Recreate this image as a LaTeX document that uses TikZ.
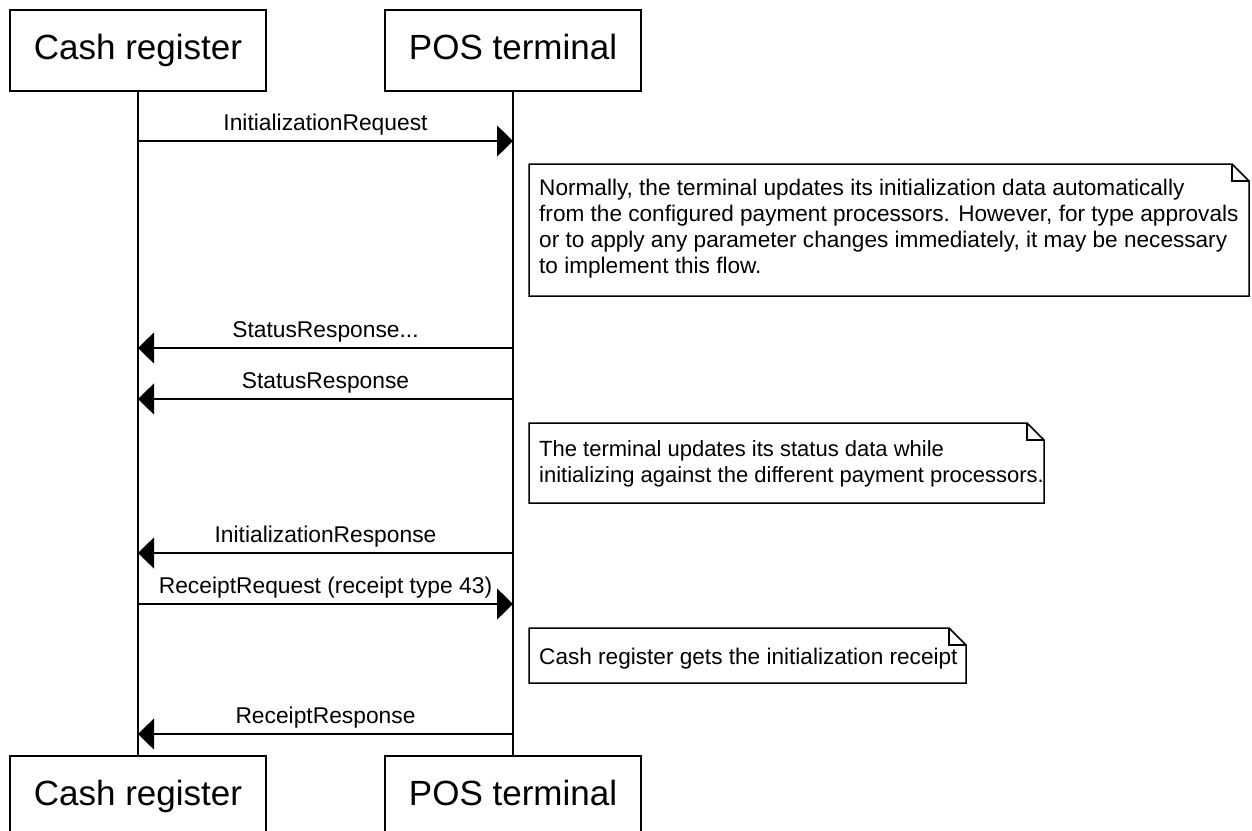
\documentclass[tikz,border=0pt]{standalone}
\usepackage{fontspec}
\setmainfont{Liberation Sans}
\usetikzlibrary{arrows.meta}
\newcommand\mynote[8]{%
  \coordinate (#1nw) at (#2,#3);
  \coordinate (#1se) at (#4,#5);
  \draw[noteline] (#2,#3) -- ({#4-17},#3) -- (#4,{#3+17}) -- (#4,#5) -- (#2,#5) -- cycle;
  \draw[noteline] ({#4-17},#3) -- ({#4-17},{#3+17}) -- (#4,{#3+17});
  \node[notetext, font=\fontsize{#7}{26}\selectfont] (#1) at ({#2+10},{#3+#6}) {#8};
}
\begin{document}
\begin{tikzpicture}[x=1pt,y=-1pt,
  actor/.style={draw, line width=1.5pt, minimum width=256pt, minimum height=81pt, inner sep=0pt,
    text height=25.5pt, text depth=7.5pt, font=\fontsize{35}{42}\selectfont},
  life/.style={line width=1.5pt},
  msg/.style={line width=1.5pt, -{Triangle[length=16pt,width=31pt]}},
  lbl/.style={font=\fontsize{22.8}{27}\selectfont, inner sep=0pt, anchor=base, yshift=10.5pt},
  noteline/.style={line width=1.5pt, line join=miter},
  notetext/.style={align=left, inner sep=0pt, anchor=north west}
]
\useasboundingbox (0,0) rectangle (1252,830);
\clip (0,0) rectangle (1252,830);
\fill[white] (0,0) rectangle (1252,830);

% actors
\node[actor] (cr)   at (138,50.5)  {Cash register};
\node[actor] (pos)  at (513,50.5)  {POS terminal};
\node[actor] (crb)  at (138,796.5) {Cash register};
\node[actor] (posb) at (513,796.5) {POS terminal};

% lifelines
\draw[life] (cr.south) -- (crb.north);
\draw[life] (pos.south) -- (posb.north);

% message end points on the lifelines
\coordinate (c1) at (138,141); \coordinate (p1) at (513,141);
\coordinate (c2) at (138,348); \coordinate (p2) at (513,348);
\coordinate (c3) at (138,399); \coordinate (p3) at (513,399);
\coordinate (c4) at (138,553); \coordinate (p4) at (513,553);
\coordinate (c5) at (138,604); \coordinate (p5) at (513,604);
\coordinate (c6) at (138,734); \coordinate (p6) at (513,734);

% messages
\draw[msg] (c1) -- (p1) node[lbl, pos=.5] (l1) {InitializationRequest};
\draw[msg] (p2) -- (c2) node[lbl, pos=.5] (l2) {StatusResponse...};
\draw[msg] (p3) -- (c3) node[lbl, pos=.5] (l3) {StatusResponse};
\draw[msg] (p4) -- (c4) node[lbl, pos=.5] (l4) {InitializationResponse};
\draw[msg] (c5) -- (p5) node[lbl, pos=.5] (l5) {ReceiptRequest (receipt type 43)};
\draw[msg] (p6) -- (c6) node[lbl, pos=.5] (l6) {ReceiptResponse};

% notes
\mynote{n1}{529}{164}{1249}{296}{15}{22.6}{Normally, the terminal updates its initialization data automatically\\from the configured payment processors. However, for type approvals\\or to apply any parameter changes immediately, it may be necessary\\to implement this flow.}
\mynote{n2}{529}{423}{1044}{503}{17}{22}{The terminal updates its status data while\\initializing against the different payment processors.}
\mynote{n3}{529}{628}{966}{683}{20}{22.6}{Cash register gets the initialization receipt}
\end{tikzpicture}
\end{document}
